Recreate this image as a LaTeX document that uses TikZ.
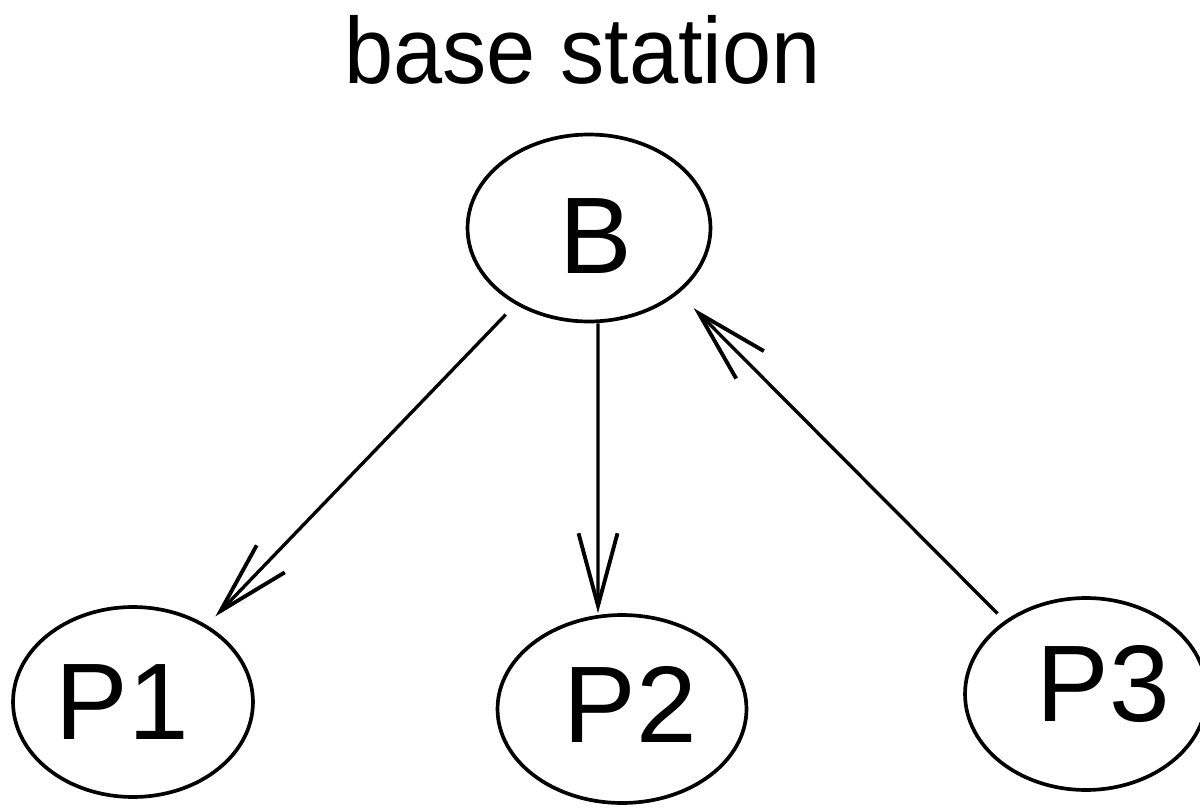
\documentclass[tikz,border=0pt]{standalone}
\usepackage{fontspec}
\setmainfont{Liberation Sans}
\usetikzlibrary{shapes.geometric,arrows.meta}
\begin{document}
\begin{tikzpicture}[x=0.02cm,y=-0.02cm,
  ell/.style={draw,ellipse,line width=2.1pt,inner sep=0pt},
  lbl/.style={font=\fontsize{62}{70}\selectfont,inner sep=0pt},
  arr/.style={line width=1.9pt,-{Straight Barb[length=1.45cm,width=0.78cm,line width=2.2pt]}}]
\useasboundingbox (0,0) rectangle (1200,808);
\node[anchor=base,inner sep=0pt,font=\fontsize{53.5}{60}\selectfont] (title) at (582.5,83) {\scalebox{0.94}[1]{base station}};
\node[ell,minimum width=4.86cm,minimum height=3.74cm,label={[lbl,shift={(7,8)}]center:B}] (B) at (589,228) {};
\node[ell,minimum width=4.8cm,minimum height=3.8cm,label={[lbl,shift={(-11,0)}]center:P1}] (P1) at (133,702) {};
\node[ell,minimum width=4.98cm,minimum height=3.76cm,label={[lbl,shift={(8,-5)}]center:P2}] (P2) at (622,709) {};
\node[ell,minimum width=4.84cm,minimum height=3.84cm,label={[lbl,shift={(17,-10)}]center:P3}] (P3) at (1086,694) {};
\draw[arr,shorten <=0.28cm,shorten >=0.24cm] (B) -- (P1);
\draw[arr] ([xshift=0.18cm]B.south) -- ([xshift=-0.48cm]P2.north);
\draw[arr,shorten <=0.2cm,shorten >=0.42cm] (P3.138) -- (B.-36);
\end{tikzpicture}
\end{document}
